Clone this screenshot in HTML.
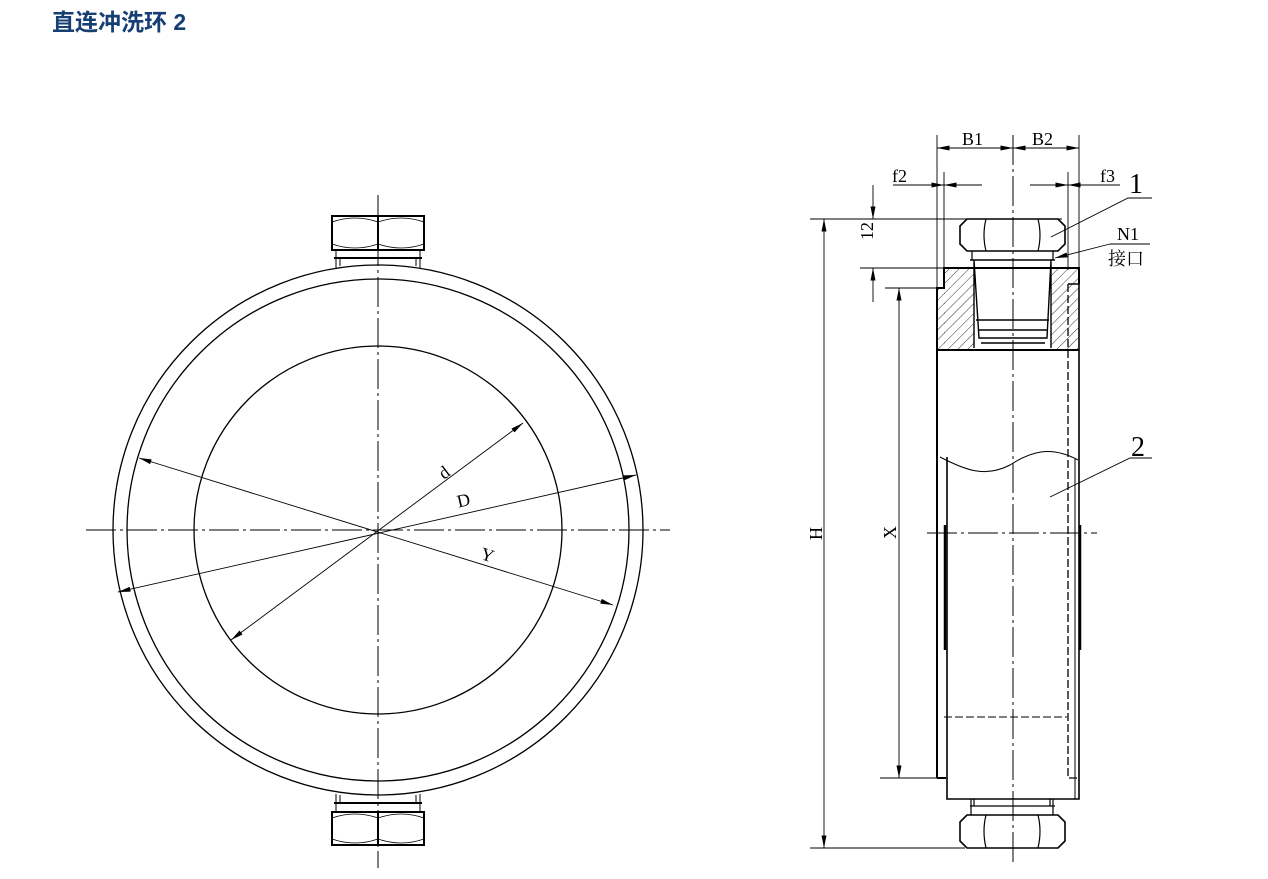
<!DOCTYPE html>
<html><head><meta charset="utf-8"><style>
body{margin:0;background:#fff;width:1268px;height:879px;overflow:hidden;font-family:"Liberation Sans","Noto Sans CJK SC",sans-serif}
h1{position:absolute;left:52px;top:3px;margin:0;font-size:23px;color:#163f73;font-weight:bold;font-family:"Liberation Sans","Noto Sans CJK SC",sans-serif}
svg{position:absolute;left:0;top:0}
text{font-family:"Liberation Serif","Noto Serif CJK SC",serif;fill:#000}
</style></head><body>
<h1>直连冲洗环 2</h1>
<svg width="1268" height="879" viewBox="0 0 1268 879">
<defs>
<marker id="a" viewBox="0 0 10 4" refX="10" refY="2" markerWidth="16" markerHeight="5" orient="auto-start-reverse" markerUnits="userSpaceOnUse"><path d="M0,0L10,2L0,4z" fill="#000"/></marker>
<pattern id="h" width="7" height="7" patternUnits="userSpaceOnUse" patternTransform="rotate(45)"><line x1="0" y1="0" x2="0" y2="7" stroke="#000" stroke-width="0.8"/></pattern>
</defs>
<g fill="none" stroke="#000" stroke-width="1.3">
<circle cx="378" cy="530" r="265"/>
<circle cx="378" cy="530" r="251"/>
<circle cx="378" cy="530" r="184"/>
<g stroke-width="1" stroke-dasharray="30,4,3,4">
<line x1="378" y1="195" x2="378" y2="868"/>
<line x1="86" y1="530" x2="670" y2="530"/>
</g>
<rect x="332" y="216" width="92" height="34" stroke-width="2"/>
<line x1="378" y1="216" x2="378" y2="250" stroke-width="2"/>
<path d="M332,222 Q355,214 378,222 Q401,214 424,222 M332,244 Q355,252 378,244 Q401,252 424,244" stroke-width="0.8"/>
<line x1="334" y1="258" x2="422" y2="258" stroke-width="2"/>
<path d="M336,250V268M340,258V266M420,250V268M416,258V266" stroke-width="1"/>
<rect x="332" y="812" width="92" height="33" stroke-width="2"/>
<line x1="378" y1="812" x2="378" y2="845" stroke-width="2"/>
<path d="M332,818 Q355,810 378,818 Q401,810 424,818 M332,839 Q355,847 378,839 Q401,847 424,839" stroke-width="0.8"/>
<line x1="334" y1="803" x2="422" y2="803" stroke-width="2"/>
<path d="M336,794V812M340,795V803M420,794V812M416,795V803" stroke-width="1"/>
<g stroke-width="0.9">
<line x1="523" y1="423" x2="231" y2="640" marker-start="url(#a)" marker-end="url(#a)"/>
<line x1="636" y1="475" x2="118" y2="592" marker-start="url(#a)" marker-end="url(#a)"/>
<line x1="139" y1="458" x2="613" y2="605" marker-start="url(#a)" marker-end="url(#a)"/>
</g>
</g>
<text x="438" y="478" font-size="18" transform="rotate(-37 444 470)">d</text>
<text x="457" y="506" font-size="18" transform="rotate(-13 465 500)">D</text>
<text x="481" y="561" font-size="18" transform="rotate(17 488 555)">Y</text>

<g fill="none" stroke="#000" stroke-width="1.3">
<rect x="944" y="268" width="134" height="82" fill="url(#h)" stroke="none"/>
<rect x="937" y="288" width="8" height="62" fill="url(#h)" stroke="none"/>
<rect x="974" y="262" width="77" height="88" fill="#fff" stroke="none"/>
<path d="M937,778V288H944V268H1079V284" stroke-width="2"/>
<path d="M937,350H1079" stroke-width="2"/>
<path d="M1068,284H1079V799H947V457" stroke-width="1.6"/>
<path d="M1068,284V778H1079" stroke-width="1.3" stroke-dasharray="8,3"/>
<path d="M937,778H946" stroke-width="2"/>
<path d="M1075,458V799" stroke-width="1"/>
<path d="M944,717H1067" stroke-dasharray="8,3" stroke-width="1"/>
<path d="M940,457 C965,470 985,478 1010,465 C1030,452 1050,445 1078,460" stroke-width="1"/>
<path d="M945,525V650M1080,525V650" stroke-width="2.5"/>
<path d="M970,260H1055M974,260L979,338H1047L1051,260M974,262V348M1051,262V348" stroke-width="1.4"/>
<path d="M976,320H1049M979,330H1047M981,343H1045" stroke-width="1.4"/>
<path d="M967,219H1058L1065,226V244L1058,251H967L960,244V226Z" stroke-width="1.6"/>
<path d="M986,219Q982,235 986,251M1038,219Q1042,235 1038,251" stroke-width="1.2"/>
<path d="M972,251V260M1053,251V260" stroke-width="1.2"/>
<path d="M967,815H1058L1065,822V841L1058,848H967L960,841V822Z" stroke-width="1.6"/>
<path d="M986,815Q982,831 986,848M1038,815Q1042,831 1038,848" stroke-width="1.2"/>
<path d="M970,806H1055M971,799V815M1053,799V815M974,799V806M1050,799V806" stroke-width="1.2"/>
<g stroke-width="1" stroke-dasharray="30,4,3,4">
<line x1="1013" y1="135" x2="1013" y2="862"/>
<line x1="927" y1="533" x2="1097" y2="533"/>
</g>
<g stroke-width="0.9">
<path d="M937,135V290M1079,135V285M944,172V270M1068,172V270"/>
<line x1="937" y1="148" x2="1013" y2="148" marker-start="url(#a)" marker-end="url(#a)"/>
<line x1="1013" y1="148" x2="1079" y2="148" marker-start="url(#a)" marker-end="url(#a)"/>
<path d="M893,185H944" marker-end="url(#a)"/><path d="M982,185H944" marker-end="url(#a)"/>
<path d="M1030,185H1068" marker-end="url(#a)"/><path d="M1120,185H1068" marker-end="url(#a)"/>
<path d="M810,219H1062M860,268H944M885,288H937M880,778H937M810,848H965"/>
<line x1="824" y1="219" x2="824" y2="848" marker-start="url(#a)" marker-end="url(#a)"/>
<line x1="899" y1="288" x2="899" y2="778" marker-start="url(#a)" marker-end="url(#a)"/>
<path d="M873,185V219" marker-end="url(#a)"/><path d="M873,302V268" marker-end="url(#a)"/>
<path d="M1051,237L1128,198H1152"/>
<path d="M1110,244H1150M1110,244L1055,258" marker-end="url(#a)"/>
<path d="M1050,497L1130,458H1152"/>
</g>
</g>
<text x="962" y="145" font-size="18">B1</text>
<text x="1032" y="145" font-size="18">B2</text>
<text x="892" y="182" font-size="18">f2</text>
<text x="1100" y="182" font-size="18">f3</text>
<text x="1129" y="193" font-size="28">1</text>
<text x="1117" y="240" font-size="18">N1</text>
<text x="1108" y="265" font-size="18">接口</text>
<text x="1131" y="456" font-size="28">2</text>
<text x="869" y="252" font-size="18" transform="rotate(-90 865 244)">12</text>
<text x="808" y="540" font-size="18" transform="rotate(-90 815 533)">H</text>
<text x="883" y="540" font-size="18" transform="rotate(-90 889 533)">X</text>
</svg>
</body></html>
